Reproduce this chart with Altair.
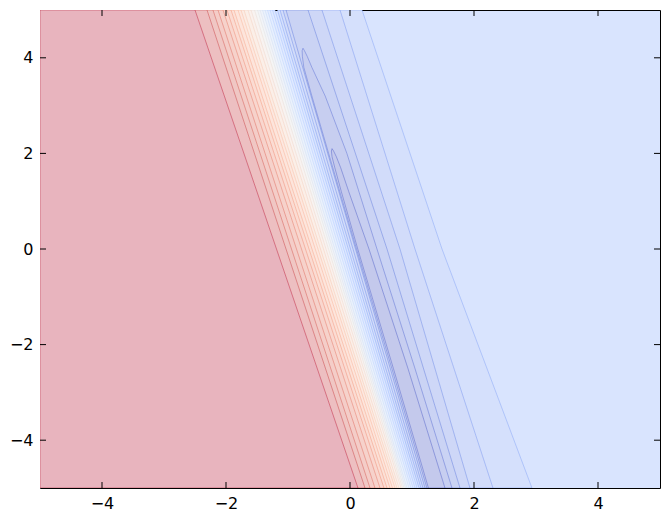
import altair as alt
import pandas as pd
import numpy as np

# ---------------- data ----------------
x_ticks = [-4, -2, 0, 2, 4]
y_ticks = [-4, -2, 0, 2, 4]

N_BANDS = 29          # filled contour bands (coolwarm, alpha 0.3)
PLATEAU = 6           # band index of the flat light-blue region on the right

# left (transition) branch of boundaries b2..b27 : x at y=+5 and at y=-5
bnd_ids = list(range(2, 28))
left_top = [-1.032, -1.081, -1.129, -1.169, -1.210, -1.250, -1.290, -1.331,
            -1.371, -1.411, -1.452, -1.492, -1.540, -1.597, -1.645, -1.710,
            -1.758, -1.806, -1.871, -1.919, -1.984, -2.048, -2.129, -2.210,
            -2.306, -2.500]
left_bot = [1.210, 1.177, 1.145, 1.113, 1.081, 1.048, 1.016, 0.984,
            0.952, 0.919, 0.895, 0.871, 0.847, 0.823, 0.790, 0.758,
            0.726, 0.685, 0.645, 0.597, 0.548, 0.484, 0.403, 0.323,
            0.242, 0.129]

# right branch of boundaries b2..b5 at y = +5, 0, -5
right_ids = [2, 3, 4, 5]
right_y = [5, 0, -5]
right_x = [[-0.677, 0.597, 1.774],
           [-0.452, 0.806, 1.935],
           [-0.161, 1.048, 2.306],
           [0.194, 1.484, 2.935]]

# closed (U shaped) boundaries b0, b1: y, left x, right x
u1_y = [-5, -2.5, 0, 2.0, 3.2, 3.8, 4.03, 4.15, 4.2]
u1_left = [1.240, 0.675, 0.105, -0.345, -0.615, -0.745, -0.768, -0.772, -0.758]
u1_right = [1.645, 1.048, 0.435, -0.050, -0.400, -0.615, -0.690, -0.735, -0.758]
u0_y = [-5, -2.5, 0, 1.2, 1.7, 1.93, 2.05, 2.1]
u0_left = [1.265, 0.700, 0.125, -0.140, -0.245, -0.290, -0.300, -0.290]
u0_right = [1.532, 0.935, 0.306, -0.020, -0.150, -0.220, -0.265, -0.290]

# ---------------- colour map (coolwarm) ----------------
CW = [(59, 76, 192), (68, 90, 204), (77, 104, 215), (87, 117, 225), (98, 130, 234),
      (108, 142, 241), (119, 154, 247), (130, 165, 251), (141, 176, 254), (152, 185, 255),
      (163, 194, 255), (174, 201, 253), (184, 208, 249), (194, 213, 244), (204, 217, 238),
      (213, 219, 230), (221, 221, 221), (229, 216, 209), (236, 211, 197), (241, 204, 185),
      (245, 196, 173), (247, 187, 160), (247, 177, 148), (247, 166, 135), (244, 154, 123),
      (241, 141, 111), (236, 127, 99), (229, 112, 88), (222, 96, 77), (213, 80, 66),
      (203, 62, 56), (192, 40, 47), (180, 4, 38)]
ALPHA = 0.3


def cmap(t):
    p = t * (len(CW) - 1)
    i = min(int(p), len(CW) - 2)
    f = p - i
    return [CW[i][k] * (1 - f) + CW[i + 1][k] * f for k in range(3)]


def hexc(rgb):
    return "#" + "".join(f"{int(round(v)):02x}" for v in rgb)


def band_fill(j):
    c = cmap(j / (N_BANDS - 1))
    return hexc([ALPHA * v + (1 - ALPHA) * 255 for v in c])


def band_raw(j):
    return hexc(cmap(j / (N_BANDS - 1)))


# ---------------- scales / axes ----------------
W, H = 620, 478
xs = alt.Scale(domain=[-5, 5], nice=False, zero=False)
ys = alt.Scale(domain=[-5, 5], nice=False, zero=False)
ax_common = dict(ticks=False, domain=False, grid=False, labelFont="DejaVu Sans",
                 labelFontSize=16, labelColor="black", title=None)
xaxis = alt.Axis(values=x_ticks, labelPadding=7, **ax_common)
yaxis = alt.Axis(values=y_ticks, labelPadding=7, **ax_common)


def area_layer(df, j):
    df = df.sort_values("y")
    return alt.Chart(df).mark_area(
        orient="horizontal", clip=True, fill=band_fill(j), stroke=band_raw(j),
        strokeOpacity=0.45, strokeWidth=0.9
    ).encode(
        y=alt.Y("y:Q", scale=ys, axis=yaxis),
        x=alt.X("x:Q", scale=xs, axis=xaxis, stack=None),
        x2="x2:Q",
    )


layers = []
# regions f > level_i  (left of the transition line), ascending
for i, lt, lb in zip(bnd_ids, left_top, left_bot):
    if i < PLATEAU:
        continue
    df = pd.DataFrame({"y": [-5, 5], "x": [-5, -5], "x2": [lb, lt]})
    layers.append(area_layer(df, i + 1))

# regions f < level_i between left and right branches, descending
for i, rx in sorted(zip(right_ids, right_x), reverse=True):
    k = bnd_ids.index(i)
    lt, lb = left_top[k], left_bot[k]
    lx = [lt, (lt + lb) / 2, lb]
    df = pd.DataFrame({"y": right_y, "x": lx, "x2": rx})
    layers.append(area_layer(df, i))

layers.append(area_layer(pd.DataFrame({"y": u1_y, "x": u1_left, "x2": u1_right}), 1))
layers.append(area_layer(pd.DataFrame({"y": u0_y, "x": u0_left, "x2": u0_right}), 0))

# inward ticks on all four sides
TL = 6
xt = pd.DataFrame({"v": x_ticks})
yt = pd.DataFrame({"v": y_ticks})
tick_style = dict(color="black", strokeWidth=1)
layers.append(alt.Chart(xt).mark_rule(**tick_style).encode(
    x=alt.X("v:Q", scale=xs, axis=xaxis), y=alt.value(H), y2=alt.value(H - TL)))
layers.append(alt.Chart(xt).mark_rule(**tick_style).encode(
    x=alt.X("v:Q", scale=xs, axis=xaxis), y=alt.value(0), y2=alt.value(TL)))
layers.append(alt.Chart(yt).mark_rule(**tick_style).encode(
    y=alt.Y("v:Q", scale=ys, axis=yaxis), x=alt.value(0), x2=alt.value(TL)))
layers.append(alt.Chart(yt).mark_rule(**tick_style).encode(
    y=alt.Y("v:Q", scale=ys, axis=yaxis), x=alt.value(W), x2=alt.value(W - TL)))

chart = alt.layer(*layers).properties(
    width=W, height=H,
    autosize=alt.AutoSizeParams(type="none"),
    padding={"left": 32, "top": 2, "right": 2, "bottom": 26},
    background="white",
).configure_view(
    stroke="black", strokeWidth=1, fill=band_fill(PLATEAU)
)

chart.save("out.html", embed_options={"renderer": "svg", "actions": False})
